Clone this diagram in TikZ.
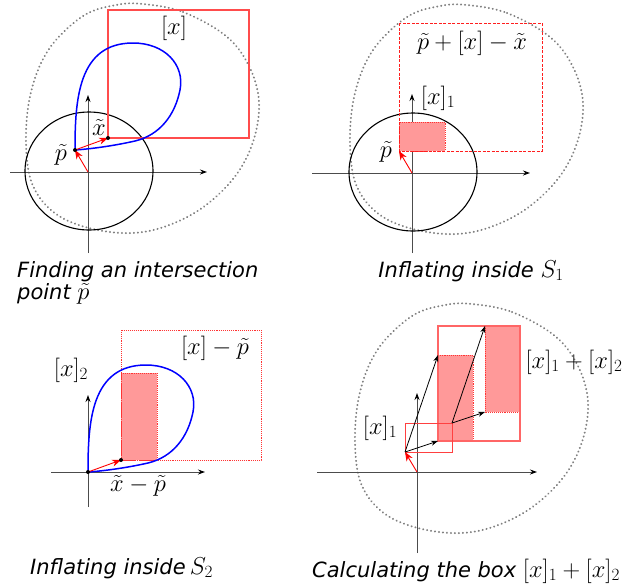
\RequirePackage{fix-cm}
\documentclass[tikz,border=0pt]{standalone}
\usepackage[no-math]{fontspec}
\newfontfamily\capfont{DejaVu Sans}
\usetikzlibrary{arrows.meta}
\definecolor{boxred}{RGB}{255,30,30}
\newcommand\bigmath[1]{{\fontsize{24.5}{28}\selectfont$#1$}}
\tikzset{
  axisline/.style={black!70, line width=0.9pt, -{Stealth[length=7pt,width=5pt,black]}},
  redarr/.style={red, line width=0.9pt, -{Stealth[length=9pt,width=7pt]}},
  blackarr/.style={black, line width=0.8pt, -{Stealth[length=7pt,width=5pt]}},
  blobline/.style={black!50, line width=2.1pt, dash pattern=on 0.1pt off 3.9pt, line cap=round},
  bluecurve/.style={blue, line width=1.5pt},
  ell/.style={black, line width=1.1pt},
  xbox/.style={draw=red!70, line width=1.1pt},
  dashbox/.style={draw=boxred, line width=1pt, dash pattern=on 3pt off 1.5pt},
  obox/.style={draw=red!80, line width=0.9pt, densely dotted},
  fillbox/.style={fill=red!40, draw=red!80, line width=0.9pt, densely dotted},
  blackdot/.style={circle, fill=black, inner sep=0pt, minimum size=4pt},
  lbl/.style={font=\fontsize{24.5}{28}\selectfont, inner sep=0pt},
  captext/.style={font=\capfont\itshape\fontsize{21}{24}\selectfont, inner sep=0pt},
  blobpic/.pic={\draw[blobline] plot[smooth cycle, tension=0.6] coordinates {
      (55,-168) (95,-160) (138,-136) (161,-106) (171,-70) (165,-30) (145,7)
      (108,40) (61,59) (15,59) (-29,44) (-55,14) (-62,-30) (-57,-80)
      (-39,-123) (-5,-156) (28,-167)};},
  looppic/.pic={\draw[bluecurve] (0,0) .. controls (0,-50) and (3,-107) .. (58,-107)
      .. controls (90,-107) and (110,-85) .. (105,-60)
      .. controls (100,-35) and (85,-15) .. (60,-9)
      .. controls (38,-4) and (15,-1) .. (0,0);}
}
\begin{document}
\begin{tikzpicture}[x=1pt,y=-1pt]
\useasboundingbox (0,0) rectangle (629,587);

% ---------------- Panel 1 ----------------
\begin{scope}[shift={(88,172)}]
  \coordinate (o1) at (0,0);
  \coordinate (p1) at (-13,-22);
  \coordinate (x1) at (20,-34);
  \coordinate (h1a) at (-78,0); \coordinate (h1b) at (119,0);
  \coordinate (v1a) at (0,81);  \coordinate (v1b) at (0,-77);
  \pic at (o1) {blobpic};
  \draw[axisline] (h1a) -- (h1b);
  \draw[axisline] (v1a) -- (v1b);
  \draw[ell] (1,-1) ellipse [x radius=64pt, y radius=59pt];
  \draw[xbox] (20,-162) rectangle (161,-34);
  \pic at (p1) {looppic};
  \draw[redarr] (o1) -- (p1);
  \draw[redarr] (p1) -- (x1);
  \node[blackdot] (d1p) at (p1) {};
  \node[blackdot] (d1x) at (x1) {};
  \node[lbl] (l1x) at (86,-144) {$[x]$};
  \node[lbl] (l1xt) at (11,-45) {$\tilde{x}$};
  \node[lbl] (l1p) at (-27,-17) {$\tilde{p}$};
\end{scope}
\node[captext, anchor=base west] (c1a) at (17,277) {Finding an intersection};
\node[captext, anchor=base west] (c1b) at (17,299) {point \bigmath{\tilde{p}}};

% ---------------- Panel 2 ----------------
\begin{scope}[shift={(412,173)}]
  \coordinate (o2) at (0,0);
  \coordinate (p2) at (-13,-22);
  \coordinate (h2a) at (-100,0); \coordinate (h2b) at (118,0);
  \coordinate (v2a) at (0,80);   \coordinate (v2b) at (0,-79);
  \pic at (o2) {blobpic};
  \draw[axisline] (h2a) -- (h2b);
  \draw[axisline] (v2a) -- (v2b);
  \draw[ell] (1,-1) ellipse [x radius=64pt, y radius=59pt];
  \draw[fillbox] (-13,-51) rectangle (33,-22);
  \draw[dashbox] (-13,-150) rectangle (130,-22);
  \draw[redarr] (o2) -- (p2);
  \node[lbl] (l2a) at (60,-130) {$\tilde{p}+[x]-\tilde{x}$};
  \node[lbl] (l2b) at (26,-75) {$[x]_1$};
  \node[lbl] (l2p) at (-26,-21) {$\tilde{p}$};
\end{scope}
\node[captext, anchor=base] (c2) at (471,277) {Inflating inside \bigmath{S_1}};

% ---------------- Panel 3 ----------------
\begin{scope}[shift={(88,472)}]
  \coordinate (o3) at (0,0);
  \coordinate (q3) at (33,-12);
  \coordinate (h3a) at (-37,0); \coordinate (h3b) at (117,0);
  \coordinate (v3a) at (0,35);  \coordinate (v3b) at (0,-77);
  \draw[axisline] (h3a) -- (h3b);
  \draw[axisline] (v3a) -- (v3b);
  \draw[fillbox] (33,-99) rectangle (69,-12);
  \draw[obox] (33,-142) rectangle (173,-12);
  \pic at (o3) {looppic};
  \draw[redarr] (o3) -- (q3);
  \node[blackdot] (d3o) at (o3) {};
  \node[blackdot] (d3q) at (q3) {};
  \node[lbl] (l3a) at (127,-124) {$[x]-\tilde{p}$};
  \node[lbl] (l3b) at (-17,-102) {$[x]_2$};
  \node[lbl] (l3c) at (50,14) {$\tilde{x}-\tilde{p}$};
\end{scope}
\node[captext, anchor=base west] (c3) at (30,574) {Inflating inside\bigmath{\,S_2}};

% ---------------- Panel 4 ----------------
\begin{scope}[shift={(417,472)}]
  \coordinate (o4) at (0,0);
  \coordinate (p4) at (-12,-20);
  \coordinate (q4) at (35,-49);
  \coordinate (a4) at (21,-31);
  \coordinate (b4) at (21,-117);
  \coordinate (g4) at (68,-60);
  \coordinate (e4) at (68,-146);
  \coordinate (h4a) at (-100,0); \coordinate (h4b) at (120,0);
  \coordinate (v4a) at (0,81);   \coordinate (v4b) at (0,-79);
  \pic at (o4) {blobpic};
  \draw[axisline] (h4a) -- (h4b);
  \draw[axisline] (v4a) -- (v4b);
  \draw[fillbox] (21,-117) rectangle (56,-31);
  \draw[fillbox] (68,-146) rectangle (103,-60);
  \draw[xbox, draw=red!60] (21,-146) rectangle (103,-31);
  \draw[xbox, draw=red!75, line width=1pt] (-12,-49) rectangle (35,-20);
  \draw[redarr] (o4) -- (p4);
  \draw[blackarr] (p4) -- (a4);
  \draw[blackarr] (p4) -- (b4);
  \draw[blackarr] (q4) -- (g4);
  \draw[blackarr] (q4) -- (e4);
  \node[lbl] (l4a) at (-37,-44) {$[x]_1$};
  \node[lbl] (l4b) at (157,-110) {$[x]_1+[x]_2$};
\end{scope}
\node[captext, anchor=base west] (cap4) at (312,577) {Calculating the box \bigmath{[x]_1+[x]_2}};
\end{tikzpicture}
\end{document}
